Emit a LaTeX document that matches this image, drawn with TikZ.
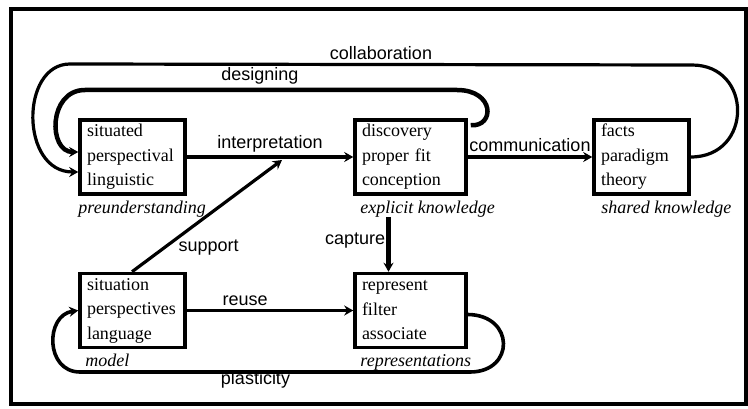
\documentclass[tikz,border=0pt]{standalone}
\usepackage{fontspec}
\setmainfont{Liberation Serif}
\setsansfont{Liberation Sans}
\usetikzlibrary{arrows.meta,positioning}

\tikzset{
  box/.style={draw, line width=3.5pt, minimum height=74pt, inner xsep=7pt,
    align=left, font=\fontsize{18}{24.5}\selectfont},
  kind/.style={font=\itshape\fontsize{18}{20}\selectfont, inner sep=0pt, anchor=north west},
  lbl/.style={font=\sffamily\fontsize{18}{20}\selectfont},
  flow/.style={line width=3.2pt, -{Stealth[length=9pt,width=10pt]}},
}

\begin{document}
\begin{tikzpicture}[x=1pt, y=-1pt]
    \useasboundingbox (0,0) rectangle (748,409);
    % Marco exterior
    \draw[line width=4.5pt] (11,9) rectangle (746,404);

    % Cajas de conocimiento
    \node[box, text width=91pt] (pre) at (132.5,157) {situated\\perspectival\\linguistic};
    \node[box, text width=97pt] (expl) at (410.5,157) {discovery\\proper fit\\conception};
    \node[box, text width=81pt] (shared) at (641.5,157) {facts\\paradigm\\theory};
    \node[box, text width=91pt] (model) at (132.5,310.5) {situation\\perspectives\\language};
    \node[box, text width=97pt] (repr) at (410.5,310.5) {represent\\filter\\associate};

    % Nombres de las cajas
    \node[kind] (prename) at ([yshift=-5pt]pre.south west) {preunderstanding};
    \node[kind] (explname) at ([xshift=7pt, yshift=-5pt]expl.south west) {explicit knowledge};
    \node[kind] (sharedname) at ([xshift=9pt, yshift=-5pt]shared.south west) {shared knowledge};
    \node[kind] (modelname) at ([xshift=7pt, yshift=-5pt]model.south west) {model};
    \node[kind] (reprname) at ([xshift=7pt, yshift=-5pt]repr.south west) {representations};

    % Flechas rectas
    \draw[flow] (pre) -- (expl) node[lbl, midway, above] {interpretation};
    \draw[flow] (expl) -- (shared) node[lbl, midway, above] {communication};
    \draw[flow] (model) -- (repr) node[lbl, pos=.35, above] {reuse};
    \draw[flow, line width=4.5pt] ([xshift=-22pt]expl.south |- explname.south) -- ([xshift=-22pt]repr.north)
        node[lbl, pos=.43, left, inner sep=1pt] {capture};
    \coordinate (sup) at (282,160);
    \draw[flow] ([xshift=-0.5pt]model.north) -- (sup)
        node[lbl, pos=.3, anchor=north west, inner sep=0pt] {support};

    % Lazos de vuelta
    \draw[flow, line width=4.5pt] ([xshift=3pt, yshift=-7pt]expl.north east)
        .. controls (495,127) and (495,90) .. (457,90) -- (85,90)
        node[lbl, pos=.53, above] {designing}
        .. controls (48,90) and (48,152) .. ([yshift=5pt]pre.west);
    \draw[flow] (shared.east) .. controls (753,157) and (753,65) .. (692,65) -- (70,64)
        node[lbl, midway, above] {collaboration}
        .. controls (20,64) and (20,172) .. ([yshift=-15pt]pre.west);
    \draw[flow, line width=3.6pt] ([yshift=-4pt]repr.east) .. controls (515,315) and (515,372) .. (470,372)
        -- (80,372) node[lbl, pos=.55, below=-2pt, inner sep=0pt] {plasticity}
        .. controls (45,372) and (45,315) .. (model.west);
\end{tikzpicture}
\end{document}
